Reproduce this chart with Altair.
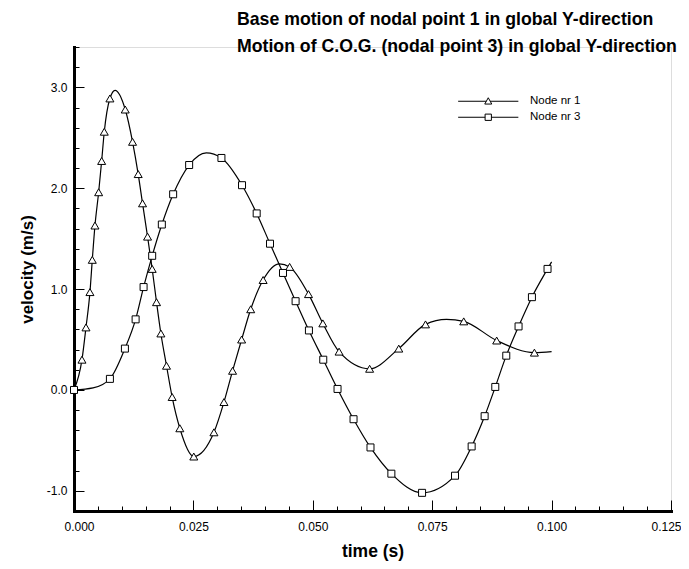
import altair as alt
import pandas as pd

# ---------------- data ----------------
# Node nr 1 : marker positions (time in s, velocity in m/s)
node1_marker_t = [0.00167, 0.00251, 0.00334, 0.00383, 0.00439, 0.00516, 0.00579, 0.00634,
                  0.00752, 0.01073, 0.01226, 0.01344, 0.01435, 0.01540, 0.01637, 0.01728,
                  0.01819, 0.01937, 0.02055, 0.02216, 0.02508, 0.02930, 0.03140, 0.03320,
                  0.03510, 0.03700, 0.03960, 0.04515, 0.04910, 0.05210, 0.05550, 0.06190,
                  0.06800, 0.07360, 0.08160, 0.08850, 0.09640]
node1_marker_v = [0.30, 0.62, 0.97, 1.29, 1.63, 1.96, 2.27, 2.56,
                  2.89, 2.78, 2.46, 2.14, 1.85, 1.52, 1.20, 0.87,
                  0.56, 0.24, -0.07, -0.38, -0.66, -0.42, -0.12, 0.19,
                  0.50, 0.80, 1.09, 1.22, 0.95, 0.66, 0.38, 0.21,
                  0.41, 0.65, 0.68, 0.49, 0.37]
# Node nr 1 : extra curve points without a marker (start, peaks, end)
node1_curve_t = [0.0, 0.0086, 0.0430, 0.0780, 0.1000]
node1_curve_v = [0.0, 2.97, 1.25, 0.70, 0.38]

# Node nr 3 : marker positions
node3_marker_t = [0.0, 0.00752, 0.01066, 0.01290, 0.01457, 0.01637, 0.01839, 0.02076,
                  0.02411, 0.03087, 0.03518, 0.03825, 0.04104, 0.04376, 0.04640, 0.04919,
                  0.05219, 0.05518, 0.05853, 0.06208, 0.06645, 0.07288, 0.07978, 0.08326,
                  0.08598, 0.08821, 0.09051, 0.09308, 0.09588, 0.09915]
node3_marker_v = [0.0, 0.11, 0.41, 0.70, 1.02, 1.33, 1.64, 1.94,
                  2.23, 2.30, 2.03, 1.75, 1.45, 1.16, 0.88, 0.59,
                  0.30, 0.01, -0.29, -0.57, -0.83, -1.02, -0.85, -0.56,
                  -0.26, 0.03, 0.34, 0.63, 0.92, 1.20]
node3_curve_t = [0.0040, 0.0277, 0.1000]
node3_curve_v = [0.02, 2.35, 1.27]

series_names = ["Node nr  1", "Node nr  3"]

x_major = [0.0, 0.025, 0.05, 0.075, 0.1, 0.125]
x_minor = [0.005, 0.01, 0.015, 0.02, 0.03, 0.035, 0.04, 0.045, 0.055, 0.06, 0.065, 0.07,
           0.08, 0.085, 0.09, 0.095, 0.105, 0.11, 0.115, 0.12]
y_major = [-1.0, 0.0, 1.0, 2.0, 3.0]
y_minor = [-1.2, -0.8, -0.6, -0.4, -0.2, 0.2, 0.4, 0.6, 0.8, 1.2, 1.4, 1.6, 1.8,
           2.2, 2.4, 2.6, 2.8, 3.2, 3.4]

title_lines = ["Base motion of nodal point 1 in global Y-direction",
               "Motion of C.O.G. (nodal point 3) in global Y-direction"]

# ---------------- tables ----------------
line_df = pd.concat([
    pd.DataFrame({"series": series_names[0],
                  "t": node1_marker_t + node1_curve_t,
                  "v": node1_marker_v + node1_curve_v}),
    pd.DataFrame({"series": series_names[1],
                  "t": node3_marker_t + node3_curve_t,
                  "v": node3_marker_v + node3_curve_v}),
]).sort_values(["series", "t"]).reset_index(drop=True)

tri_df = pd.DataFrame({"t": node1_marker_t, "v": node1_marker_v})
sq_df = pd.DataFrame({"t": node3_marker_t, "v": node3_marker_v})
legend_df = pd.DataFrame({"series": series_names})

# ---------------- chart ----------------
W, H = 597, 464
FONT = "Liberation Sans, Arial, Helvetica, sans-serif"

xs = alt.Scale(domain=[0, 0.125], nice=False, zero=False)
ys = alt.Scale(domain=[-1.2, 3.4], nice=False, zero=False)

x_label_axis = alt.Axis(orient="bottom", values=x_major, format=".3f", ticks=False,
                        domain=True, domainWidth=3, domainColor="black", domainCap="square",
                        grid=False, labelFont=FONT, labelFontSize=12, labelColor="black",
                        labelPadding=10, labelFlush=True, labelFlushOffset=10,
                        labelOverlap=False, labelBound=False,
                        title="time (s)", titleFont=FONT, titleFontSize=17.5,
                        titleFontWeight="bold", titleColor="black", titleX=W / 2, titleY=40.5,
                        titleBaseline="middle", titleAlign="center")
y_label_axis = alt.Axis(orient="left", values=y_major, ticks=False,
                        labelExpr="datum.value < 0 ? '-' + format(-datum.value, '.1f') : format(datum.value, '.1f')",
                        domain=True, domainWidth=3, domainColor="black", domainCap="square",
                        grid=False, labelFont=FONT, labelFontSize=12, labelColor="black",
                        labelPadding=7, labelFlush=False, labelOverlap=False, labelBound=False,
                        title="velocity (m/s)", titleFont=FONT, titleFontSize=17,
                        titleFontWeight="bold", titleColor="black", titleX=-47, titleY=222,
                        titleAngle=270, titleBaseline="middle", titleAlign="center")

def tick_axis(orient, values, size, offset):
    return alt.Axis(orient=orient, values=values, offset=offset, labels=False, domain=False,
                    grid=False, ticks=True, tickSize=size, tickWidth=1, tickColor="black",
                    title=None)

lines = alt.Chart(line_df).mark_line(interpolate="monotone", color="black", strokeWidth=1.2).encode(
    x=alt.X("t:Q", scale=xs, axis=x_label_axis),
    y=alt.Y("v:Q", scale=ys, axis=y_label_axis),
    detail="series:N",
)

tris = alt.Chart(tri_df).mark_point(shape="triangle-up", filled=True, fill="white",
                                    stroke="black", strokeWidth=1, size=64, opacity=1).encode(
    x=alt.X("t:Q", scale=xs, axis=tick_axis("top", x_major, 11, -H)),
    y=alt.Y("v:Q", scale=ys, axis=tick_axis("right", y_major, 10, -W)),
)

sqs = alt.Chart(sq_df).mark_point(shape="square", filled=True, fill="white",
                                  stroke="black", strokeWidth=1, size=49, opacity=1).encode(
    x=alt.X("t:Q", scale=xs, axis=tick_axis("top", x_minor, 5, -H)),
    y=alt.Y("v:Q", scale=ys, axis=tick_axis("right", y_minor, 5, -W)),
)

# legend symbols: a short line with the marker in its middle (custom SVG paths)
tri_path = "M -8.6 0 L -0.56 0 M 0.56 0 L 8.6 0 M 0 -1 L 1 0.8 L -1 0.8 Z"
sq_path = "M -8.6 0 L -0.9 0 M 0.9 0 L 8.6 0 M -0.9 -0.9 L 0.9 -0.9 L 0.9 0.9 L -0.9 0.9 Z"

legend_layer = alt.Chart(legend_df).transform_filter("false").mark_point(
    filled=False, stroke="black", strokeWidth=1).encode(
    shape=alt.Shape("series:N",
                    scale=alt.Scale(domain=series_names, range=[tri_path, sq_path]),
                    legend=alt.Legend(title=None, orient="none", legendX=408.5, legendY=48.5,
                                      symbolSize=49, symbolStrokeWidth=1,
                                      symbolFillColor="white", symbolStrokeColor="black",
                                      symbolOpacity=1, labelFont=FONT, labelFontSize=11.5,
                                      labelColor="black", labelOffset=36, rowPadding=3,
                                      padding=0)),
)

chart = alt.layer(lines, tris, sqs, legend_layer).resolve_axis(
    x="independent", y="independent"
).properties(
    width=W, height=H,
    padding={"left": 66, "top": 39, "right": 10, "bottom": 50},
    autosize=alt.AutoSizeParams(type="none"),
    title=alt.Title(title_lines, anchor="start", frame="group", orient="top", offset=0,
                    dx=163, dy=9, font=FONT, fontSize=17.7, fontWeight="bold",
                    lineHeight=27, baseline="top", color="black"),
).configure_view(stroke=None).configure(background="white")

chart.save("out.html", embed_options={"renderer": "svg", "actions": False})
